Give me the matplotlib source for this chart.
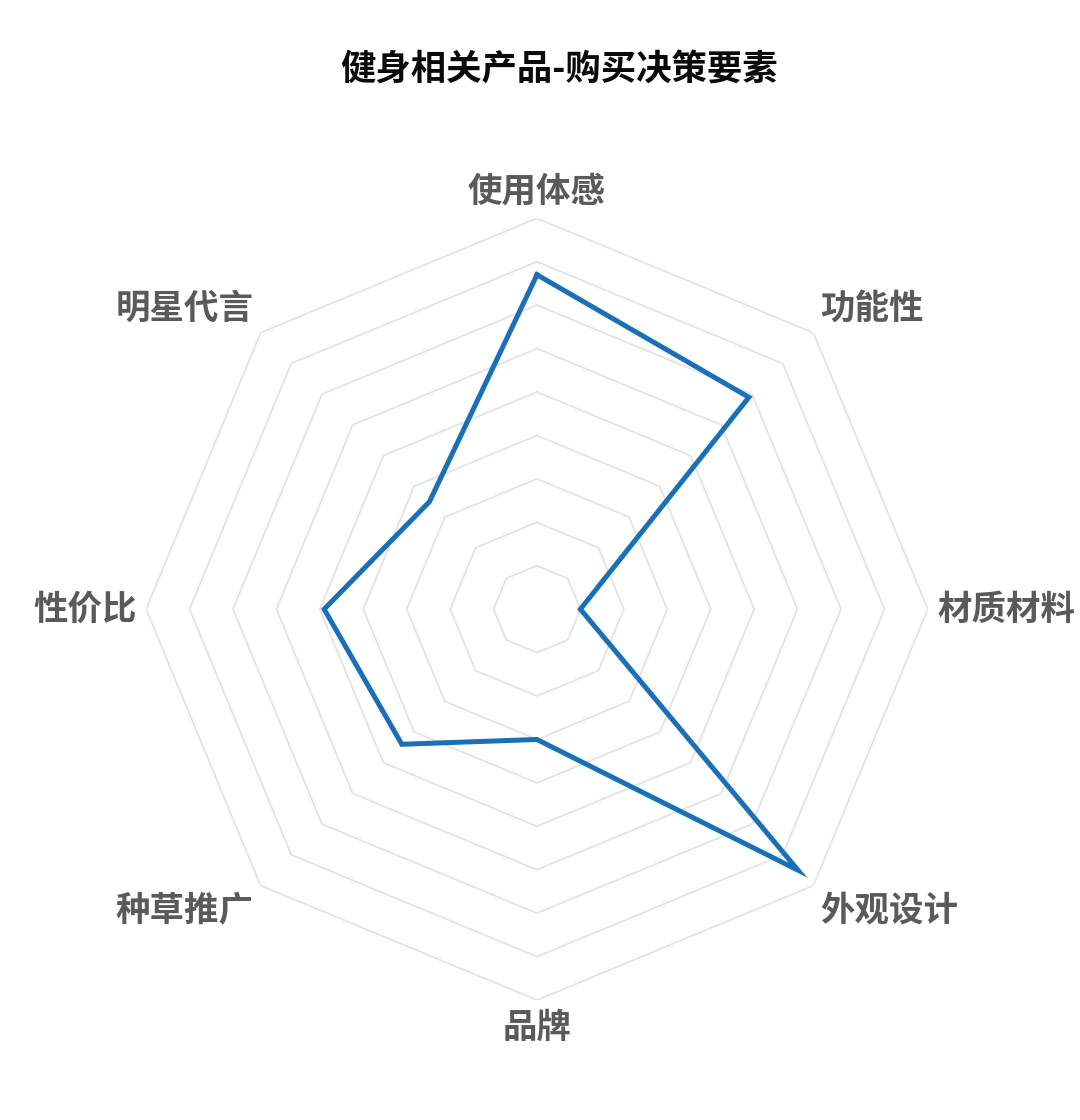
import numpy as np
import matplotlib
matplotlib.use("Agg")
import matplotlib.pyplot as plt

plt.rcParams['font.family'] = ['Noto Sans CJK SC', 'DejaVu Sans']

title = "健身相关产品-购买决策要素"
categories = ["使用体感", "功能性", "材质材料", "外观设计", "品牌", "种草推广", "性价比", "明星代言"]
values = [7.7, 6.9, 1.0, 8.5, 3.0, 4.4, 4.9, 3.5]
ring_levels = [1, 2, 3, 4, 5, 6, 7, 8, 9]
r_max = 9


def main():
    fig = plt.figure(figsize=(10.8, 11.2), dpi=100)
    ax = fig.add_axes([0.1352, 0.1071, 0.724, 0.698], projection="polar")
    ax.set_theta_offset(np.pi / 2)
    ax.set_theta_direction(-1)
    ax.set_ylim(0, r_max)
    ax.grid(False)
    ax.spines["polar"].set_visible(False)
    ax.set_xticks([])
    ax.set_yticks([])
    ax.patch.set_alpha(0)

    n = len(categories)
    angles = np.linspace(0, 2 * np.pi, n, endpoint=False)
    closed = np.append(angles, angles[0])

    # octagon rings
    for lv in ring_levels:
        ax.plot(closed, [lv] * (n + 1), color="#e3e3e3", lw=1.3, zorder=1)

    vals = values + values[:1]
    ax.plot(closed, vals, color="#1a70b8", lw=3.6, zorder=3,
            solid_joinstyle="miter")

    # axis names
    for ang, name in zip(angles, categories):
        sx = np.sin(ang)
        cy = np.cos(ang)
        if abs(sx) < 1e-6:
            ha = "center"
        elif sx > 0:
            ha = "left"
        else:
            ha = "right"
        if abs(cy) < 1e-6:
            va = "center"
        elif cy > 0:
            va = "bottom"
        else:
            va = "top"
        ax.text(ang, 9.22, name, ha=ha, va=va, fontsize=24.8,
                fontweight="bold", color="#5a5a5a", clip_on=False)

    fig.text(559 / 1080, 1 - 70 / 1120, title, ha="center", va="center",
             fontsize=25.5, fontweight="bold", color="#0a0a0a")

    fig.savefig("out.png", dpi=100, facecolor="white")


if __name__ == "__main__":
    main()
